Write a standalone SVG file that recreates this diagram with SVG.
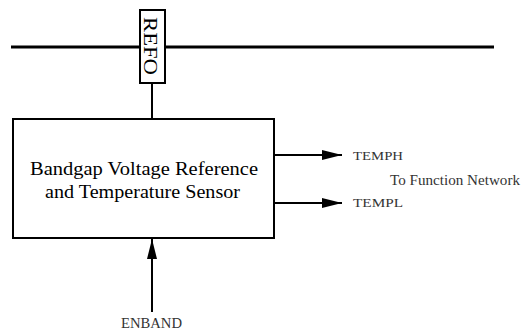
<svg xmlns="http://www.w3.org/2000/svg" width="521" height="331" viewBox="0 0 521 331">
<style>
.ln{stroke:#000;stroke-width:2;fill:none}
.box{stroke:#000;stroke-width:2;fill:#fff}
.t{font-family:"Liberation Serif",serif;fill:#000}
.lbl{font-family:"Liberation Serif",serif;fill:#333}
</style>
<defs>
<marker id="ah2" markerWidth="20" markerHeight="10" refX="20" refY="5" orient="auto" markerUnits="userSpaceOnUse">
<path d="M0,0 L20,5 L0,10 Z" fill="#000"/>
</marker>
</defs>
<g id="connectors">
<line x1="11" y1="47" x2="494" y2="47" stroke="#000" stroke-width="3"/>
<line class="ln" x1="152" y1="83" x2="152" y2="119"/>
<line class="ln" x1="274" y1="155" x2="342" y2="155" marker-end="url(#ah2)"/>
<line class="ln" x1="274" y1="203" x2="342" y2="203" marker-end="url(#ah2)"/>
<line class="ln" x1="152" y1="312" x2="152" y2="239" marker-end="url(#ah2)"/>
</g>
<g id="refo">
<rect class="box" x="140" y="10" width="25" height="73"/>
<text class="t" font-size="19" textLength="58" lengthAdjust="spacingAndGlyphs" transform="translate(144,17) rotate(90)">REFO</text>
</g>
<g id="bandgap">
<rect class="box" x="13" y="119" width="261" height="119"/>
<text class="t" font-size="18" x="30" y="175" textLength="228" lengthAdjust="spacingAndGlyphs">Bandgap Voltage Reference</text>
<text class="t" font-size="18" x="45" y="198" textLength="195" lengthAdjust="spacingAndGlyphs">and Temperature Sensor</text>
</g>
<g id="labels">
<text class="lbl" font-size="12" x="353" y="160" textLength="50" lengthAdjust="spacingAndGlyphs" fill="#222">TEMPH</text>
<text class="lbl" font-size="15" x="390" y="185" textLength="130" lengthAdjust="spacingAndGlyphs" fill="#555">To Function Network</text>
<text class="lbl" font-size="13" x="353" y="207" textLength="50" lengthAdjust="spacingAndGlyphs" fill="#222">TEMPL</text>
<text class="lbl" font-size="15" x="121" y="328" textLength="61" lengthAdjust="spacingAndGlyphs">ENBAND</text>
</g>
</svg>
